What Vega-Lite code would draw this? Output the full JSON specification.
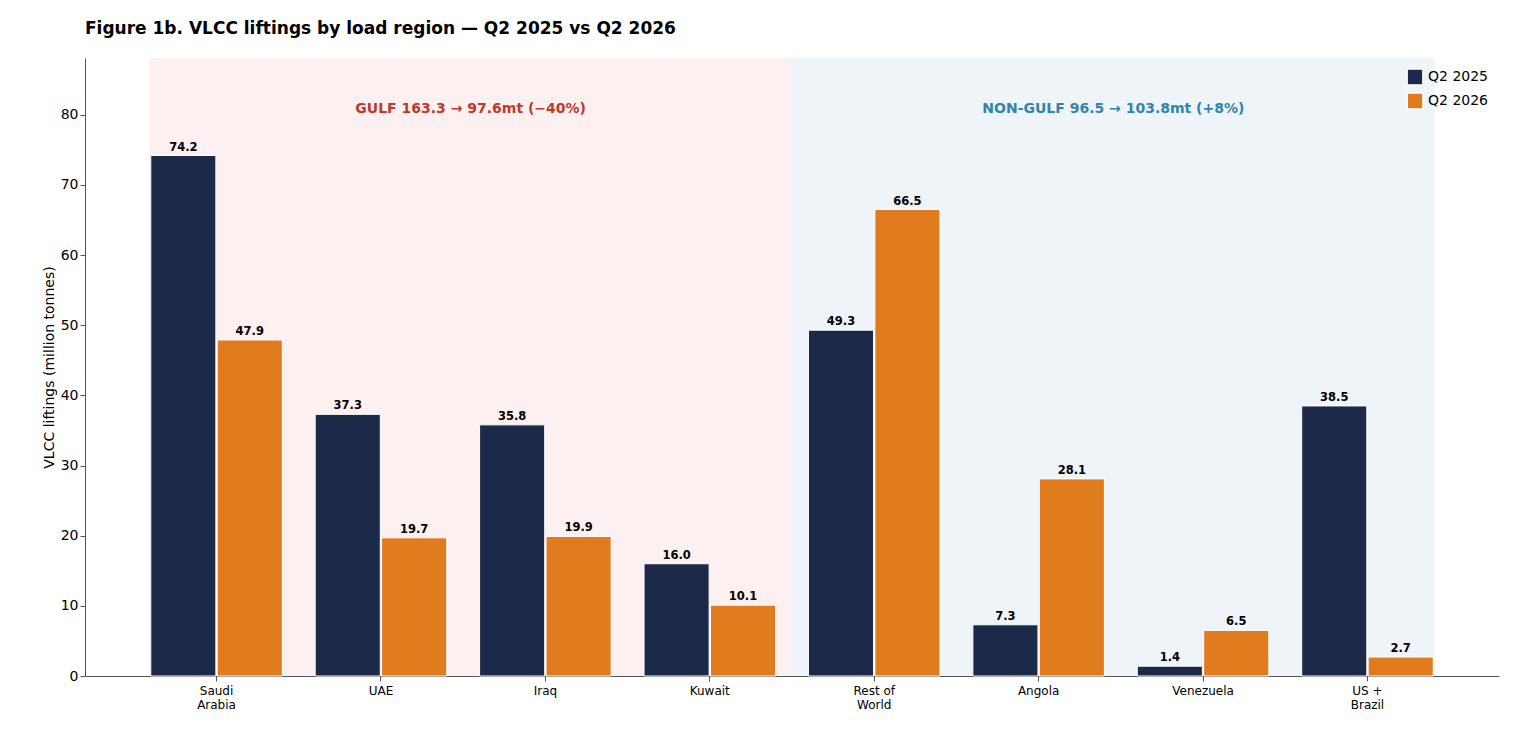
{
  "$schema": "https://vega.github.io/schema/vega-lite/v6.json",
  "width": 1414,
  "height": 618,
  "autosize": "none",
  "padding": {"left": 85, "top": 58, "right": 15, "bottom": 68},
  "config": {"view": {"stroke": null}, "font": "DejaVu Sans"},
  "title": {"text": "Figure 1b.  VLCC liftings by load region — Q2 2025 vs Q2 2026", "anchor": "start", "frame": "group", "fontSize": 17, "fontWeight": "bold", "offset": 20, "color": "#000"},
  "datasets": {
    "bars": [
      {"cat": "Saudi|Arabia", "series": "Q2 2025", "value": 74.2},
      {"cat": "Saudi|Arabia", "series": "Q2 2026", "value": 47.9},
      {"cat": "UAE", "series": "Q2 2025", "value": 37.3},
      {"cat": "UAE", "series": "Q2 2026", "value": 19.7},
      {"cat": "Iraq", "series": "Q2 2025", "value": 35.8},
      {"cat": "Iraq", "series": "Q2 2026", "value": 19.9},
      {"cat": "Kuwait", "series": "Q2 2025", "value": 16.0},
      {"cat": "Kuwait", "series": "Q2 2026", "value": 10.1},
      {"cat": "Rest of|World", "series": "Q2 2025", "value": 49.3},
      {"cat": "Rest of|World", "series": "Q2 2026", "value": 66.5},
      {"cat": "Angola", "series": "Q2 2025", "value": 7.3},
      {"cat": "Angola", "series": "Q2 2026", "value": 28.1},
      {"cat": "Venezuela", "series": "Q2 2025", "value": 1.4},
      {"cat": "Venezuela", "series": "Q2 2026", "value": 6.5},
      {"cat": "US +|Brazil", "series": "Q2 2025", "value": 38.5},
      {"cat": "US +|Brazil", "series": "Q2 2026", "value": 2.7}
    ],
    "regions": [
      {"start": 0.4, "end": 4.4, "mid": 2.4, "fill": "#fdf0f0", "color": "#c0392b", "label": "GULF  163.3 → 97.6mt  (−40%)"},
      {"start": 4.4, "end": 8.4, "mid": 6.4, "fill": "#eff4f9", "color": "#2e86ab", "label": "NON-GULF  96.5 → 103.8mt  (+8%)"}
    ]
  },
  "layer": [
    {
      "data": {"name": "regions"},
      "layer": [
        {
          "mark": {"type": "rect"},
          "encoding": {
            "x": {"field": "start", "type": "quantitative", "scale": {"domain": [0, 8.8], "nice": false, "zero": false}, "axis": null},
            "x2": {"field": "end"},
            "fill": {"field": "fill", "type": "nominal", "scale": null}
          }
        },
        {
          "mark": {"type": "text", "fontSize": 14, "fontWeight": "bold"},
          "encoding": {
            "x": {"field": "mid", "type": "quantitative", "scale": {"domain": [0, 8.8], "nice": false, "zero": false}, "axis": null},
            "y": {"datum": 80.9, "type": "quantitative"},
            "text": {"field": "label"},
            "color": {"field": "color", "type": "nominal", "scale": null}
          }
        }
      ]
    },
    {
      "data": {"name": "bars"},
      "layer": [
        {
          "mark": {"type": "bar", "stroke": "white", "strokeWidth": 1},
          "encoding": {
            "x": {"field": "cat", "type": "nominal", "sort": null, "scale": {"paddingInner": 0.2, "paddingOuter": 0.4},
              "axis": {"title": null, "labelAngle": 0, "labelExpr": "split(datum.label, '|')", "labelFontSize": 12, "labelColor": "#000", "domainColor": "#555", "tickColor": "#555", "labelPadding": 4}},
            "xOffset": {"field": "series", "type": "nominal", "scale": {"paddingInner": 0.02}},
            "y": {"field": "value", "type": "quantitative", "scale": {"domain": [0, 88.1], "nice": false},
              "axis": {"title": "VLCC liftings (million tonnes)", "titleFontSize": 14, "titleFontWeight": "normal", "titleColor": "#000", "labelFontSize": 14, "labelColor": "#000", "grid": false, "values": [0,10,20,30,40,50,60,70,80], "domainColor": "#555", "tickColor": "#555"}},
            "fill": {"field": "series", "type": "nominal", "scale": {"domain": ["Q2 2025", "Q2 2026"], "range": ["#1c2a4a", "#e07b1e"]},
              "legend": {"title": null, "orient": "top-right", "symbolType": "square", "symbolSize": 250, "labelFontSize": 14, "labelColor": "#000", "offset": 10}}
          }
        },
        {
          "mark": {"type": "text", "fontSize": 11.5, "fontWeight": "bold", "dy": -8, "color": "#000"},
          "encoding": {
            "x": {"field": "cat", "type": "nominal", "sort": null},
            "xOffset": {"field": "series", "type": "nominal"},
            "y": {"field": "value", "type": "quantitative"},
            "text": {"field": "value", "type": "quantitative", "format": ".1f"}
          }
        }
      ]
    }
  ],
  "resolve": {"scale": {"x": "independent"}}
}
